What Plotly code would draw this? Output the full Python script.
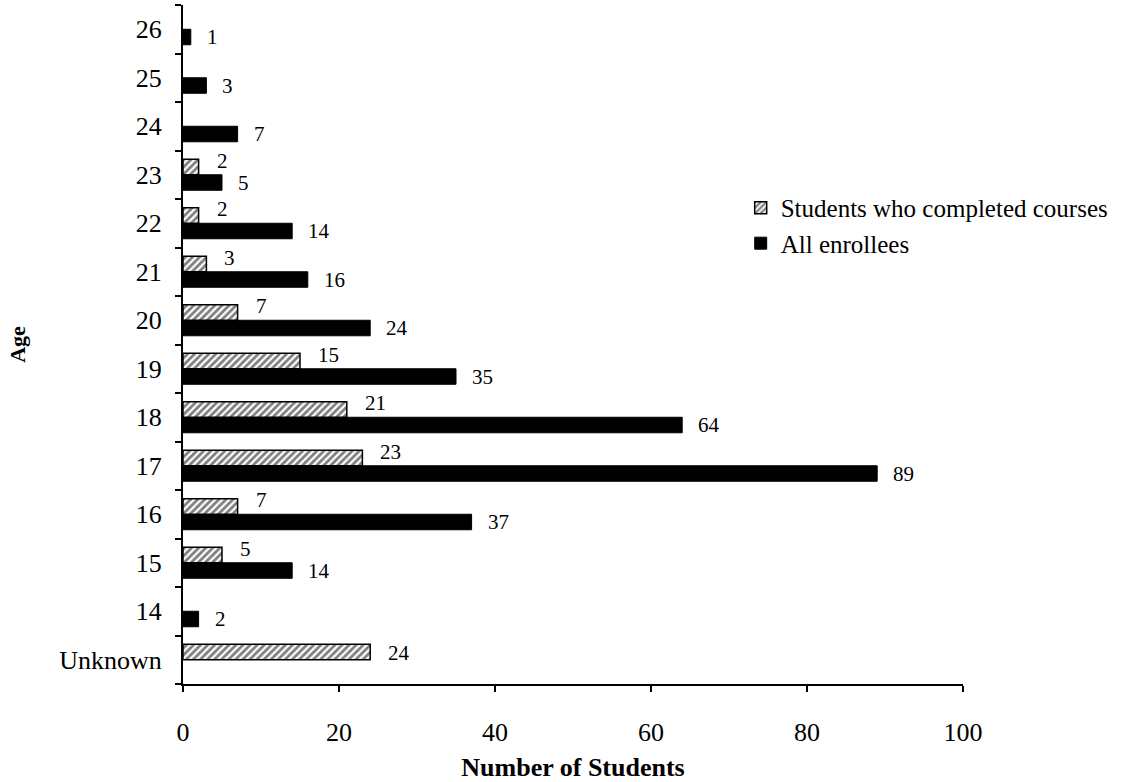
import plotly.graph_objects as go

# Age groups, bottom to top
ages = ["Unknown", "14", "15", "16", "17", "18", "19", "20",
        "21", "22", "23", "24", "25", "26"]

# Student counts per age group (None = no bar)
all_enrollees = [None, 2, 14, 37, 89, 64, 35, 24, 16, 14, 5, 7, 3, 1]
completed = [24, None, 5, 7, 23, 21, 15, 7, 3, 2, 2, None, None, None]

x_ticks = [0, 20, 40, 60, 80, 100]

SERIF = "Liberation Serif, Times New Roman, serif"

fig = go.Figure()

fig.add_trace(go.Bar(
    name="All enrollees",
    y=ages, x=all_enrollees, orientation="h",
    marker=dict(color="black", line=dict(color="black", width=1)),
    hoverinfo="x+y",
))
fig.add_trace(go.Bar(
    name="Students who completed courses",
    y=ages, x=completed, orientation="h",
    marker=dict(
        color="white",
        line=dict(color="black", width=1.5),
        pattern=dict(shape="/", fgcolor="black", bgcolor="white",
                     size=5, solidity=0.55, fillmode="overlay"),
    ),
    hoverinfo="x+y",
))

# Value labels beside each bar (category positions given by index)
annotations = []
for idx, (v_all, v_done) in enumerate(zip(all_enrollees, completed)):
    if v_all is not None:
        annotations.append(dict(
            x=v_all, y=idx, xref="x", yref="y", text=str(v_all),
            showarrow=False, xanchor="left", yanchor="middle",
            xshift=14, yshift=-8,
            font=dict(family=SERIF, size=21, color="black"),
        ))
    if v_done is not None:
        lift = 14 if v_all is not None else 7
        annotations.append(dict(
            x=v_done, y=idx, xref="x", yref="y", text=str(v_done),
            showarrow=False, xanchor="left", yanchor="middle",
            xshift=16, yshift=lift,
            font=dict(family=SERIF, size=21, color="black"),
        ))

fig.update_layout(
    width=1130, height=782,
    margin=dict(l=183, r=167, t=5, b=95),
    paper_bgcolor="white", plot_bgcolor="white",
    barmode="group", bargap=0.36, bargroupgap=0,
    font=dict(family=SERIF, color="black", size=22),
    showlegend=True,
    legend=dict(
        x=0.715, y=0.735, xanchor="left", yanchor="top",
        traceorder="reversed", bgcolor="rgba(0,0,0,0)",
        font=dict(family=SERIF, size=25, color="black"),
        itemwidth=30, tracegroupgap=0,
    ),
    annotations=annotations,
)

fig.update_xaxes(
    range=[0, 100], tickvals=x_ticks, ticktext=[str(t) for t in x_ticks],
    showgrid=False, zeroline=False,
    showline=True, linecolor="black", linewidth=2,
    ticks="outside", ticklen=6, tickwidth=2, tickcolor="black",
    tickfont=dict(family=SERIF, size=26, color="black"),
    ticklabelstandoff=18,
    title=dict(text="<b>Number of Students</b>", standoff=12,
               font=dict(family=SERIF, size=26, color="black")),
)

fig.update_yaxes(
    type="category", categoryorder="array", categoryarray=ages,
    range=[-0.5, len(ages) - 0.5],
    showgrid=False, zeroline=False,
    showline=True, linecolor="black", linewidth=2,
    ticks="outside", ticklen=6, tickwidth=2, tickcolor="black",
    tickson="boundaries",
    tickfont=dict(family=SERIF, size=26, color="black"),
    ticklabelstandoff=14,
    title=dict(text="<b>Age</b>", standoff=28,
               font=dict(family=SERIF, size=22, color="black")),
)

fig.write_html("out.html")
